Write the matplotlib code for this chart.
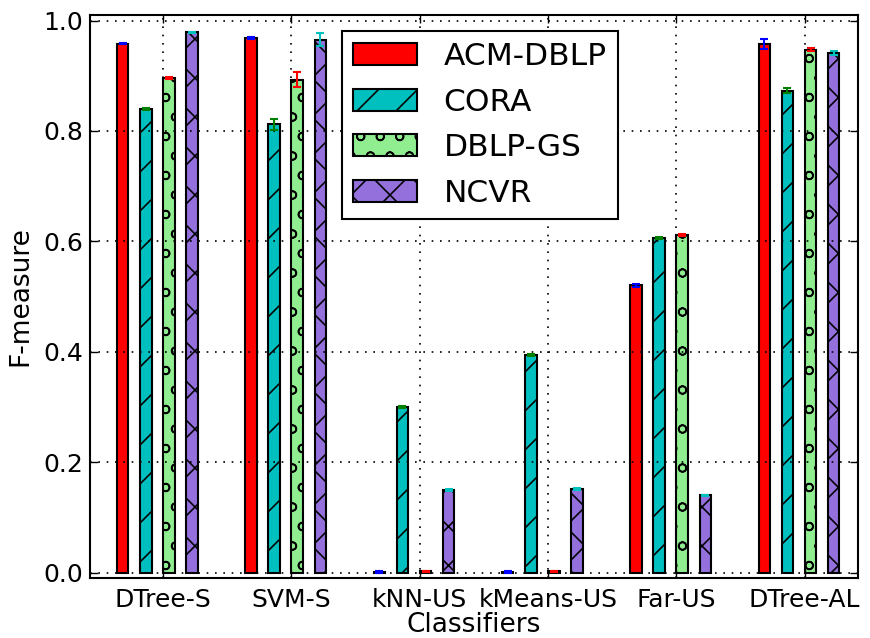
import numpy as np
import matplotlib
matplotlib.use("Agg")
import matplotlib.pyplot as plt

classifiers = ["DTree-S", "SVM-S", "kNN-US", "kMeans-US", "Far-US", "DTree-AL"]
datasets = ["ACM-DBLP", "CORA", "DBLP-GS", "NCVR"]

acm_dblp = [0.958, 0.968, 0.001, 0.001, 0.520, 0.957]
cora = [0.839, 0.812, 0.300, 0.394, 0.606, 0.873]
dblp_gs = [0.896, 0.893, 0.002, 0.002, 0.612, 0.947]
ncvr = [0.979, 0.965, 0.149, 0.151, 0.140, 0.941]

acm_dblp_err = [0.001, 0.002, 0.001, 0.001, 0.002, 0.009]
cora_err = [0.002, 0.010, 0.002, 0.002, 0.001, 0.0045]
dblp_gs_err = [0.002, 0.0135, 0.001, 0.001, 0.002, 0.003]
ncvr_err = [0.001, 0.0115, 0.002, 0.002, 0.001, 0.004]

# hatch spacing follows the dpi, so sizes below are given in "100 dpi points"
DPI = 117
S = 100.0 / DPI

plt.rcParams["hatch.linewidth"] = 1.0 * S * 1.17
plt.rcParams["xtick.direction"] = "in"
plt.rcParams["ytick.direction"] = "in"
plt.rcParams["xtick.top"] = True
plt.rcParams["ytick.right"] = True

fig = plt.figure(figsize=(870.0 / DPI, 638.0 / DPI), dpi=DPI)
ax = fig.add_axes([0.1034, 0.094, 0.8828, 0.8825])

ind = np.arange(len(classifiers))
width = 0.09
step = 0.18

series = [
    (acm_dblp, acm_dblp_err, "red", "", "blue"),
    (cora, cora_err, "c", "/", "green"),
    (dblp_gs, dblp_gs_err, "lightgreen", "o", "red"),
    (ncvr, ncvr_err, "mediumpurple", "x", "c"),
]

bars = []
for k, (vals, errs, col, hatch, ecol) in enumerate(series):
    b = ax.bar(ind + k * step, vals, width, align="edge", color=col,
               edgecolor="black", linewidth=1.5 * S, hatch=hatch,
               yerr=errs, error_kw=dict(ecolor=ecol, capsize=3.2 * S,
                                        elinewidth=1.5 * S, capthick=1.5 * S))
    bars.append(b)

ax.set_xlim(-0.21, 5.775)
ax.set_ylim(-0.01, 1.01)
ax.set_xticks(ind + 2 * step)
ax.set_xticklabels(classifiers, fontsize=18 * S)
ax.set_yticks(np.arange(0, 1.01, 0.2))
ax.set_yticklabels(["%.1f" % v for v in np.arange(0, 1.01, 0.2)], fontsize=18 * S)
ax.tick_params(length=6 * S, width=1 * S, pad=5 * S)
ax.tick_params(axis="x", pad=7 * S)
ax.set_xlabel("Classifiers", fontsize=19 * S, labelpad=0)
ax.set_ylabel("F-measure", fontsize=19 * S, labelpad=7 * S)
ax.grid(True, color="black", linestyle=(0, (1, 4)), linewidth=1.2 * S)
for s in ax.spines.values():
    s.set_linewidth(1.5 * S)

leg = ax.legend([b[0] for b in bars], datasets, fontsize=22.5 * S,
                loc="upper left", bbox_to_anchor=(0.328, 0.9716),
                borderaxespad=0, fancybox=False, framealpha=1,
                edgecolor="black", handlelength=2.05, handleheight=0.7,
                handletextpad=0.85, labelspacing=0.53, borderpad=0.36)
leg.get_frame().set_linewidth(1.5 * S)

fig.savefig("out.png", dpi=DPI)
